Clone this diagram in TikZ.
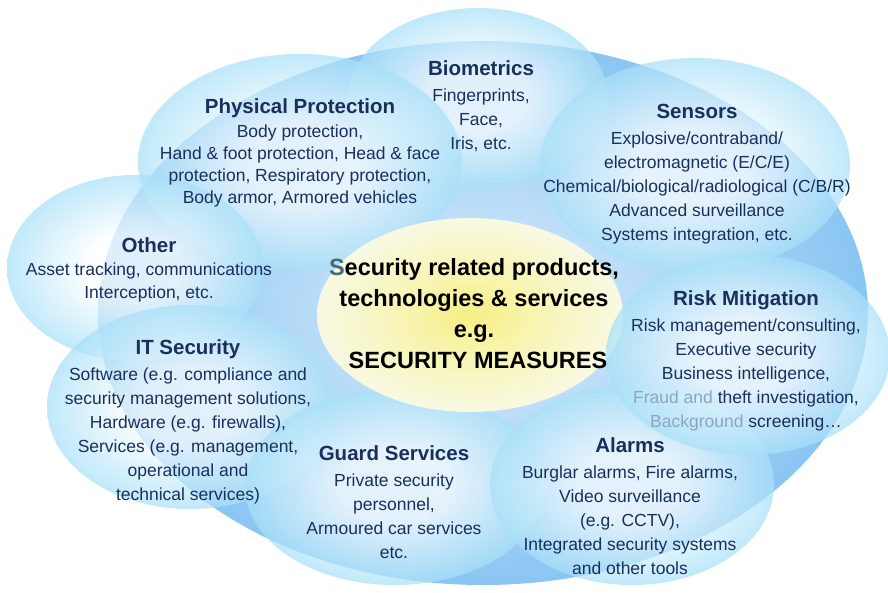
\documentclass[tikz,border=0pt]{standalone}
\usepackage{fontspec}
\setmainfont{Liberation Sans}
\usetikzlibrary{positioning}
\definecolor{secnavy}{HTML}{1A2F5C}
\definecolor{secsky}{HTML}{A8E0F8}
\definecolor{secblue}{HTML}{8AC5F3}
\definecolor{secpale}{HTML}{DCEDFB}
\definecolor{secyellow}{HTML}{F9F07C}
\definecolor{seclemon}{HTML}{FBF6AE}
\definecolor{seccream}{HTML}{FDFBE2}
\definecolor{secfade}{HTML}{8CA6C0}
\definecolor{secteal}{HTML}{456C74}

% white core fading out to sky blue at the rim
\pgfdeclareradialshading{bubblefill}{\pgfpoint{0bp}{0bp}}{%
  color(0bp)=(white); color(9bp)=(white); color(25bp)=(secsky); color(50bp)=(secsky)}
\pgfdeclareradialshading{corefill}{\pgfpoint{0bp}{0bp}}{%
  color(0bp)=(secyellow); color(11bp)=(seclemon); color(25bp)=(seccream); color(50bp)=(seccream)}

\newcommand{\grptitle}[1]{{\bfseries\fontsize{20.5}{24}\selectfont #1}}

\begin{document}
\begin{tikzpicture}[x=1pt,y=-1pt,
  bubble/.style={shading=bubblefill,opacity=0.72},
  grp/.style={align=center,text=secnavy,inner sep=0pt,
              font=\fontsize{17.5}{24}\selectfont},
  core/.style={align=center,text=black,inner sep=0pt,
               font=\fontsize{23.5}{31}\selectfont\bfseries}
]
\useasboundingbox (0,0) rectangle (888,592);

% ---- Outer cloud ---------------------------------------------
\shade[inner color=secpale,outer color=secblue] (483,313) ellipse [x radius=385pt, y radius=272pt];

% ---- Category bubbles -----------------------------------------
\foreach \cx/\cy/\rx/\ry in {478/98/130/90, 695/165/155/107, 300/162/162/108,
    135/268/128/93, 190/407/143/102, 395/487/150/98, 632/485/142/100}
  \shade[bubble] (\cx,\cy) ellipse [x radius=\rx pt, y radius=\ry pt];

% ---- Centre ----------------------------------------------------
\shade[shading=corefill,opacity=0.93]
  (470,315) ellipse [x radius=153pt, y radius=97pt];
\shade[bubble] (748,355) ellipse [x radius=142pt, y radius=100pt];

% ---- Labels ----------------------------------------------------
\node[core] (measures) at (474,314)
  {\textcolor{secteal}{S}ecurity related products,\\technologies \& services\\e.g.\\
   \hspace{8pt}SECURITY MEASURES};

\node[grp] (bio) at (481,106)
  {\grptitle{Biometrics}\\[2pt]Fingerprints,\\Face,\\Iris, etc.};
\node[grp,font=\fontsize{17.5}{22}\selectfont] (phys) at (300,153)
  {\grptitle{Physical Protection}\\[2pt]Body protection,\\Hand \& foot protection, Head \& face\\
   protection, Respiratory protection,\\Body armor, Armored vehicles};
\node[grp] (sens) at (697,174)
  {\grptitle{Sensors}\\[2pt]Explosive/contraband/\\electromagnetic (E/C/E)\\
   Chemical/biological/radiological (C/B/R)\\Advanced surveillance\\Systems integration, etc.};
\node[grp,font=\fontsize{17.5}{23}\selectfont] (other) at (149,270)
  {\grptitle{Other}\\Asset tracking, communications\\Interception, etc.};
\node[grp] (itsec) at (188,422)
  {\grptitle{IT Security}\\[2pt]Software (e.g. compliance and\\security management solutions,\\
   Hardware (e.g. firewalls),\\Services (e.g. management,\\operational and\\technical services)};
\node[grp] (guard) at (394,502)
  {\grptitle{Guard Services}\\[2pt]Private security\\personnel,\\Armoured car services\\etc.};
\node[grp] (alarm) at (630,506)
  {\grptitle{Alarms}\\[2pt]Burglar alarms, Fire alarms,\\Video surveillance\\(e.g. CCTV),\\
   Integrated security systems\\and other tools};
\node[grp] (risk) at (746,361)
  {\grptitle{Risk Mitigation}\\[2pt]Risk management/consulting,\\Executive security\\
   Business intelligence,\\\textcolor{secfade}{Fraud and} theft investigation,\\
   \textcolor{secfade}{Background} screening\dots};

\end{tikzpicture}
\end{document}
